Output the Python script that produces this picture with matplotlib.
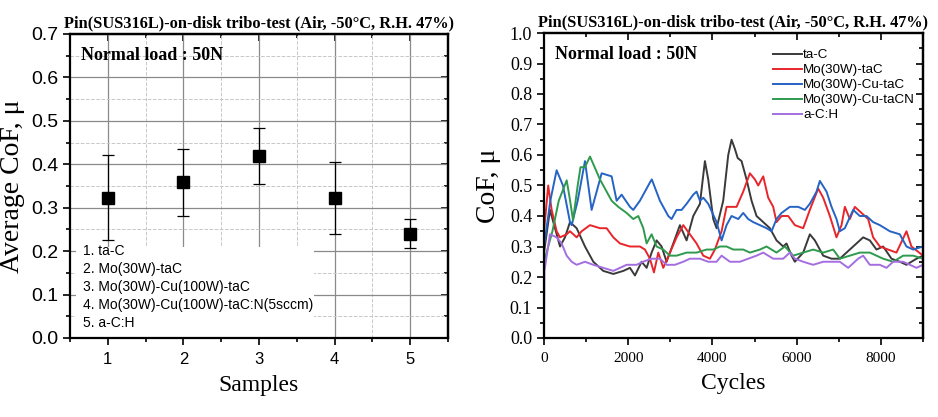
import matplotlib
matplotlib.use("Agg")
import matplotlib.pyplot as plt
from matplotlib.ticker import MultipleLocator, FormatStrFormatter
from matplotlib.patches import Rectangle

# ---------------- data ----------------
samples = [1, 2, 3, 4, 5]
avg_cof = [0.323, 0.359, 0.419, 0.323, 0.240]
err_low = [0.226, 0.280, 0.354, 0.240, 0.208]
err_high = [0.422, 0.436, 0.484, 0.405, 0.273]
sample_names = ["1. ta-C", "2. Mo(30W)-taC", "3. Mo(30W)-Cu(100W)-taC",
                "4. Mo(30W)-Cu(100W)-taC:N(5sccm)", "5. a-C:H"]

tac_x = [0, 142, 261, 380, 498, 617, 775, 973, 1171, 1408, 1646, 1883, 2041, 2160, 2318, 2437,
         2555, 2674, 2793, 2911, 3070, 3228, 3386, 3544, 3703, 3821, 3900, 4019, 4098, 4256,
         4375, 4454, 4533, 4600, 4691, 4810, 4929, 5047, 5206, 5364, 5522, 5680, 5759, 5878,
         5957, 6155, 6313, 6432, 6630, 6828, 7025, 7183, 7421, 7579, 7737, 7896, 8054, 8252,
         8449, 8608, 8845, 9000]
tac_y = [0.28, 0.42, 0.36, 0.30, 0.33, 0.38, 0.36, 0.30, 0.25, 0.22, 0.21, 0.22, 0.23, 0.205,
         0.25, 0.23, 0.28, 0.32, 0.30, 0.25, 0.31, 0.37, 0.32, 0.40, 0.44, 0.58, 0.52, 0.39,
         0.36, 0.45, 0.60, 0.65, 0.62, 0.59, 0.58, 0.52, 0.45, 0.40, 0.38, 0.36, 0.32, 0.30,
         0.31, 0.27, 0.25, 0.28, 0.34, 0.32, 0.27, 0.26, 0.26, 0.28, 0.31, 0.33, 0.32, 0.29,
         0.30, 0.26, 0.25, 0.24, 0.26, 0.27]

mo_x = [0, 100, 182, 300, 380, 538, 617, 775, 894, 1092, 1329, 1487, 1646, 1804, 2041, 2278,
        2397, 2516, 2611, 2714, 2832, 2991, 3149, 3307, 3465, 3623, 3782, 3940, 4059, 4217,
        4335, 4573, 4731, 4889, 5008, 5087, 5206, 5324, 5443, 5522, 5641, 5799, 5957, 6155,
        6313, 6511, 6630, 6788, 6946, 7065, 7144, 7263, 7381, 7540, 7698, 7816, 7975, 8172,
        8370, 8608, 8726, 9000]
mo_y = [0.35, 0.50, 0.42, 0.35, 0.33, 0.34, 0.35, 0.33, 0.35, 0.37, 0.36, 0.36, 0.33, 0.31,
        0.30, 0.30, 0.29, 0.26, 0.215, 0.28, 0.23, 0.28, 0.33, 0.37, 0.34, 0.31, 0.27, 0.26,
        0.29, 0.35, 0.43, 0.43, 0.48, 0.54, 0.52, 0.50, 0.53, 0.46, 0.43, 0.38, 0.40, 0.40,
        0.37, 0.36, 0.42, 0.49, 0.46, 0.40, 0.33, 0.37, 0.43, 0.39, 0.43, 0.41, 0.39, 0.33,
        0.30, 0.29, 0.28, 0.35, 0.30, 0.27]

cu_x = [0, 150, 300, 450, 617, 657, 800, 973, 1131, 1250, 1369, 1606, 1725, 1843, 2041, 2120,
        2278, 2516, 2560, 2753, 2951, 3030, 3149, 3268, 3386, 3544, 3623, 3703, 3782, 3900,
        4098, 4217, 4335, 4454, 4612, 4731, 4850, 4968, 5127, 5285, 5403, 5522, 5641, 5838,
        6036, 6195, 6313, 6472, 6551, 6709, 6828, 6946, 7025, 7144, 7342, 7500, 7658, 7816,
        7975, 8212, 8449, 8608, 8766, 9000]
cu_y = [0.30, 0.45, 0.55, 0.50, 0.38, 0.37, 0.45, 0.58, 0.42, 0.48, 0.54, 0.53, 0.45, 0.47,
        0.43, 0.42, 0.45, 0.51, 0.52, 0.45, 0.40, 0.39, 0.42, 0.42, 0.44, 0.47, 0.48, 0.45,
        0.46, 0.44, 0.38, 0.32, 0.37, 0.40, 0.39, 0.41, 0.39, 0.38, 0.37, 0.36, 0.35, 0.39,
        0.41, 0.43, 0.43, 0.42, 0.44, 0.48, 0.515, 0.48, 0.43, 0.39, 0.35, 0.36, 0.42, 0.40,
        0.40, 0.38, 0.37, 0.35, 0.34, 0.30, 0.29, 0.30]

cun_x = [0, 100, 200, 350, 539, 620, 689, 800, 867, 973, 1092, 1329, 1606, 1764, 1962, 2120,
         2239, 2358, 2437, 2555, 2674, 2832, 2991, 3149, 3386, 3623, 3861, 4019, 4177, 4335,
         4494, 4731, 4889, 5127, 5285, 5522, 5720, 5918, 6155, 6392, 6630, 6867, 7025, 7263,
         7500, 7737, 8054, 8291, 8528, 8766, 9000]
cun_y = [0.25, 0.30, 0.35, 0.45, 0.517, 0.45, 0.386, 0.50, 0.56, 0.56, 0.595, 0.52, 0.45,
         0.43, 0.41, 0.39, 0.40, 0.36, 0.31, 0.34, 0.30, 0.29, 0.27, 0.27, 0.28, 0.28, 0.29,
         0.29, 0.30, 0.30, 0.29, 0.29, 0.28, 0.29, 0.30, 0.28, 0.30, 0.27, 0.28, 0.29, 0.28,
         0.29, 0.26, 0.27, 0.28, 0.28, 0.26, 0.25, 0.27, 0.27, 0.26]

ach_x = [0, 10, 142, 300, 419, 538, 657, 775, 973, 1171, 1408, 1646, 1804, 1962, 2199, 2350,
         2555, 2753, 2911, 3109, 3307, 3465, 3703, 3900, 4098, 4217, 4415, 4652, 5047, 5206,
         5443, 5680, 5838, 5957, 6155, 6392, 6630, 6867, 7025, 7223, 7460, 7579, 7737, 7975,
         8133, 8291, 8528, 8687, 8845, 9000]
ach_y = [0.0, 0.22, 0.34, 0.33, 0.31, 0.27, 0.25, 0.24, 0.25, 0.24, 0.23, 0.22, 0.23, 0.24,
         0.24, 0.25, 0.26, 0.26, 0.24, 0.24, 0.25, 0.26, 0.26, 0.25, 0.25, 0.27, 0.25, 0.25,
         0.27, 0.28, 0.26, 0.26, 0.28, 0.26, 0.25, 0.24, 0.25, 0.25, 0.25, 0.23, 0.26, 0.27,
         0.24, 0.24, 0.23, 0.25, 0.25, 0.24, 0.23, 0.24]

series_names = ["ta-C", "Mo(30W)-taC", "Mo(30W)-Cu-taC", "Mo(30W)-Cu-taCN", "a-C:H"]
series_colors = ["#3a3a3a", "#e8252b", "#2563c4", "#2e9a4e", "#a46ee0"]

title = "Pin(SUS316L)-on-disk tribo-test (Air, -50\u00b0C, R.H. 47%)"

# ---------------- figure ----------------
W, H = 938, 417
fig = plt.figure(figsize=(W / 100, H / 100), dpi=100)
serif = "Liberation Serif"
sans = "Liberation Sans"


def px_axes(l, r, t, b):
    return fig.add_axes([l / W, 1 - b / H, (r - l) / W, (b - t) / H])


def style_axes(ax, xmaj, xmin, ymaj, ymin):
    for s in ax.spines.values():
        s.set_linewidth(1.6)
    ax.xaxis.set_major_locator(MultipleLocator(xmaj))
    ax.xaxis.set_minor_locator(MultipleLocator(xmin))
    ax.yaxis.set_major_locator(MultipleLocator(ymaj))
    ax.yaxis.set_minor_locator(MultipleLocator(ymin))
    ax.tick_params(which="both", direction="out", width=1.2)
    ax.tick_params(which="major", length=5)
    ax.tick_params(which="minor", length=3)
    top = ax.secondary_xaxis("top")
    top.xaxis.set_major_locator(MultipleLocator(xmaj))
    top.xaxis.set_minor_locator(MultipleLocator(xmin))
    top.tick_params(which="both", direction="in", width=1.2, labeltop=False)
    top.tick_params(which="major", length=5)
    top.tick_params(which="minor", length=3)
    top.spines["top"].set_linewidth(1.6)
    right = ax.secondary_yaxis("right")
    right.yaxis.set_major_locator(MultipleLocator(ymaj))
    right.yaxis.set_minor_locator(MultipleLocator(ymin))
    right.tick_params(which="both", direction="in", width=1.2, labelright=False)
    right.tick_params(which="major", length=5)
    right.tick_params(which="minor", length=3)
    right.spines["right"].set_linewidth(1.6)


# Left panel
ax1 = px_axes(70, 448, 34, 338)
ax1.set_xlim(0.5, 5.5)
ax1.set_ylim(0, 0.7)
style_axes(ax1, 1, 0.5, 0.1, 0.05)
ax1.grid(which="major", color="#8a8a8a", linewidth=0.9, linestyle="-")
ax1.grid(which="minor", color="#c8c8c8", linewidth=0.7, linestyle="--")
ax1.set_axisbelow(True)
lower = [a - l for a, l in zip(avg_cof, err_low)]
upper = [h - a for a, h in zip(avg_cof, err_high)]
ax1.errorbar(samples, avg_cof, yerr=[lower, upper], fmt="s", color="black",
             markersize=8, ecolor="black", elinewidth=0.9, capsize=4, capthick=0.9)
for lab in ax1.get_xticklabels() + ax1.get_yticklabels():
    lab.set_fontfamily(sans)
ax1.tick_params(axis="y", labelsize=14)
ax1.tick_params(axis="x", labelsize=12, pad=5)
ax1.set_title(title, fontfamily=serif, fontweight="bold", fontsize=11.8, pad=5)
ax1.set_xlabel("Samples", fontfamily=serif, fontsize=17, labelpad=6)
ax1.set_ylabel("Average CoF, \u03bc", fontfamily=serif, fontsize=20, labelpad=4)
ax1.text(0.03, 0.93, "Normal load : 50N", transform=ax1.transAxes, fontfamily=serif,
         fontweight="bold", fontsize=13, va="center", ha="left")
ax1.add_patch(Rectangle((0.015, 0.0), 0.63, 0.3, transform=ax1.transAxes,
                        facecolor="white", edgecolor="none", zorder=2))
for i, name in enumerate(sample_names):
    ax1.text(0.035, 0.286 - i * 0.059, name, transform=ax1.transAxes, fontfamily=sans,
             fontsize=10, va="center", ha="left", zorder=3)

# Right panel
ax2 = px_axes(544, 923, 33, 338)
ax2.set_xlim(0, 9000)
ax2.set_ylim(0, 1.0)
style_axes(ax2, 2000, 1000, 0.1, 0.05)
xs = [tac_x, mo_x, cu_x, cun_x, ach_x]
ys = [tac_y, mo_y, cu_y, cun_y, ach_y]
for x, y, n, c in zip(xs, ys, series_names, series_colors):
    ax2.plot(x, y, color=c, linewidth=1.4, label=n)
for lab in ax2.get_xticklabels() + ax2.get_yticklabels():
    lab.set_fontfamily(serif)
ax2.tick_params(axis="y", labelsize=13)
ax2.tick_params(axis="x", labelsize=11, pad=5)
ax2.yaxis.set_major_formatter(FormatStrFormatter("%.1f"))
ax2.set_title(title, fontfamily=serif, fontweight="bold", fontsize=11.8, pad=5)
ax2.set_xlabel("Cycles", fontfamily=serif, fontsize=17, labelpad=6)
ax2.set_ylabel("CoF, \u03bc", fontfamily=serif, fontsize=20, labelpad=6)
ax2.text(0.03, 0.93, "Normal load : 50N", transform=ax2.transAxes, fontfamily=serif,
         fontweight="bold", fontsize=13, va="center", ha="left")
ax2.legend(loc="upper left", bbox_to_anchor=(0.59, 0.965), frameon=False,
           prop={"family": sans, "size": 9.6}, handlelength=2.2, handletextpad=0.05,
           labelspacing=0.2, borderaxespad=0)

fig.savefig("out.png", dpi=100)
